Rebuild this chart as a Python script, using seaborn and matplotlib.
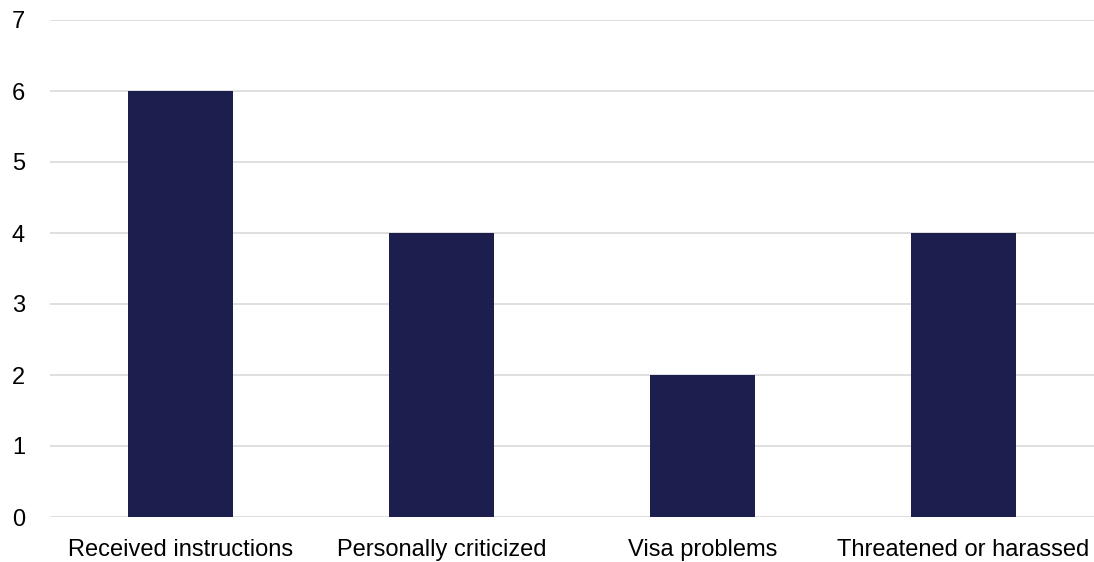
import matplotlib
matplotlib.use("Agg")
import matplotlib.pyplot as plt
import seaborn as sns
import pandas as pd

categories = ["Received instructions", "Personally criticized", "Visa problems", "Threatened or harassed"]
counts = [6, 4, 2, 4]
y_ticks = [0, 1, 2, 3, 4, 5, 6, 7]

sns.set_theme(style="white")
plt.rcParams["font.family"] = ["Liberation Sans", "DejaVu Sans"]

df = pd.DataFrame({"category": categories, "count": counts})

fig = plt.figure(figsize=(10.94, 5.62), dpi=100)
ax = fig.add_axes([50 / 1094, 45 / 562, 1 - 50 / 1094, (517 - 20) / 562])

sns.barplot(data=df, x="category", y="count", color="#1c1f4d", width=0.4,
            saturation=1, linewidth=0, ax=ax, zorder=3)

ax.set_ylim(0, 7)
ax.set_xlim(-0.5, 3.5)
ax.set_yticks(y_ticks)
ax.yaxis.grid(True, color="#d9d9d9", linewidth=1.2, zorder=0)
ax.set_axisbelow(True)
for s in ax.spines.values():
    s.set_visible(False)
ax.set_xlabel("")
ax.set_ylabel("")
ax.tick_params(axis="y", length=0, pad=18, labelsize=17, colors="#000000")
ax.tick_params(axis="x", length=0, pad=16, labelsize=17, colors="#000000")

fig.savefig("out.png", dpi=100)
